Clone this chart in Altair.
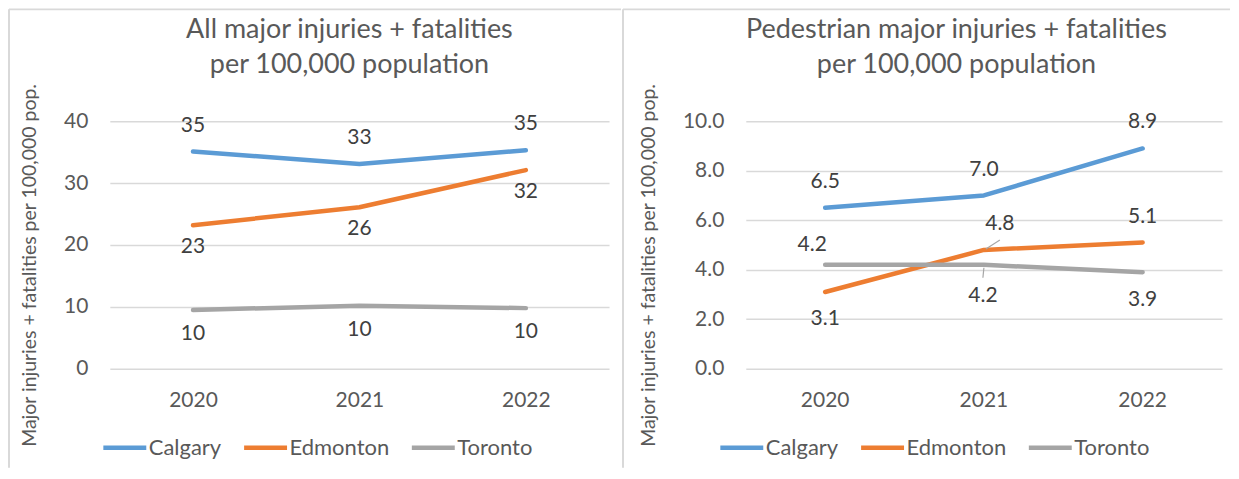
import altair as alt
import pandas as pd

FONT = "Lato"

years = ["2020", "2021", "2022"]
cities = ["Calgary", "Edmonton", "Toronto"]
city_colors = ["#5B9BD5", "#ED7D31", "#A5A5A5"]

all_calgary = [35.1, 33.1, 35.3]
all_edmonton = [23.2, 26.1, 32.1]
all_toronto = [9.5, 10.2, 9.8]

ped_calgary = [6.5, 7.0, 8.9]
ped_edmonton = [3.1, 4.8, 5.1]
ped_toronto = [4.2, 4.2, 3.9]

left_title = ["All major injuries + fatalities", "per 100,000 population"]
right_title = ["Pedestrian major injuries + fatalities", "per 100,000 population"]
y_title = "Major injuries + fatalities per 100,000 pop."
left_ticks = [0, 10, 20, 30, 40]
right_ticks = [0, 2, 4, 6, 8, 10]


def make_df(series):
    rows = []
    for city, vals in zip(cities, series):
        for yr, v in zip(years, vals):
            rows.append({"city": city, "year": yr, "value": v})
    return pd.DataFrame(rows)


df_all = make_df([all_calgary, all_edmonton, all_toronto])
df_ped = make_df([ped_calgary, ped_edmonton, ped_toronto])

# label placement (city, year or None, dx, dy)
left_place = [("Calgary", None, 0, -26), ("Edmonton", None, 0, 22), ("Toronto", None, 0, 24)]
right_place = [
    ("Calgary", None, 0, -26),
    ("Edmonton", "2020", 0, 27),
    ("Edmonton", "2021", 16, -26),
    ("Edmonton", "2022", 0, -26),
    ("Toronto", "2020", -13, -20),
    ("Toronto", "2021", -1, 31),
    ("Toronto", "2022", 0, 28),
]
# leader lines (city, year, x0, y0, x1, y1) offsets in px from the point
right_leaders = [("Edmonton", "2021", 2, -1, 16, -10), ("Toronto", "2021", 0, 3, -1, 13)]

GRID = "#D9D9D9"
TXT = "#595959"
one = alt.Data(values=[{}])


def flt(city, year):
    e = f"datum.city == '{city}'"
    if year is not None:
        e += f" && datum.year == '{year}'"
    return e


def panel(df, title_lines, ticks, yfmt, lfmt, width, title_x, place, leaders,
          legend_x, axis_title_x, frame):
    height = 248
    X = alt.X("year:O", title=None,
              axis=alt.Axis(labelAngle=0, ticks=False, domain=False, grid=False,
                            labelPadding=21, labelFontSize=21, labelFont=FONT,
                            labelColor=TXT))
    Y = alt.Y("value:Q", title=y_title,
              scale=alt.Scale(domain=[ticks[0], ticks[-1]], nice=False),
              axis=alt.Axis(values=ticks, format=yfmt, ticks=False, domain=False,
                            gridColor=GRID, gridWidth=1.5, labelPadding=22,
                            labelFontSize=21, labelFont=FONT, labelColor=TXT,
                            titleFont=FONT, titleFontSize=19.5, titleFontWeight="normal",
                            titleColor=TXT, titleX=axis_title_x, titleY=144,
                            titleAngle=270, titleAlign="center", titleBaseline="middle"))
    C = alt.Color("city:N", title=None,
                  scale=alt.Scale(domain=cities, range=city_colors),
                  legend=alt.Legend(orient="none", legendX=legend_x, legendY=303,
                                    direction="horizontal", symbolType="stroke",
                                    symbolStrokeWidth=4.5, symbolSize=1849,
                                    labelFontSize=22, labelFont=FONT, labelColor=TXT,
                                    labelOffset=0, columnPadding=13))
    base = alt.Chart(df)
    layers = []
    # frame lines
    for (x0, x1, y0, y1) in frame:
        enc = {"x": alt.value(x0), "y": alt.value(y0)}
        if x1 is not None:
            enc["x2"] = alt.value(x1)
        if y1 is not None:
            enc["y2"] = alt.value(y1)
        layers.append(alt.Chart(one).mark_rule(color=GRID, strokeWidth=2).encode(**enc))
    # title
    layers.append(alt.Chart(one).mark_text(
        text=title_lines, lineHeight=35, align="center", baseline="alphabetic",
        fontSize=27, font=FONT, color=TXT).encode(x=alt.value(title_x), y=alt.value(-83)))
    layers.append(base.mark_line(strokeWidth=4.5, strokeCap="round", strokeJoin="round")
                  .encode(x=X, y=Y, color=C))
    for (city, yr, x0, y0, x1, y1) in leaders:
        layers.append(base.transform_filter(flt(city, yr)).mark_rule(
            color="#A6A6A6", strokeWidth=1.2, xOffset=x0, yOffset=y0,
            x2Offset=x1, y2Offset=y1).encode(x=X, y=Y, x2="year:O", y2="value:Q"))
    for (city, yr, dx, dy) in place:
        layers.append(base.transform_filter(flt(city, yr)).mark_text(
            dx=dx, dy=dy, baseline="middle", align="center", fontSize=21, font=FONT,
            color="#404040").encode(x=X, y=Y, text=alt.Text("value:Q", format=lfmt)))
    return alt.layer(*layers).properties(width=width, height=height)


left = panel(df_all, left_title, left_ticks, "d", ".0f", 500, 240, left_place, [],
             -9, -80,
             [(-101, 512, -112, None), (-101, None, -112, 347)])
right = panel(df_ped, right_title, right_ticks, ".1f", ".1f", 477, 211, right_place,
              right_leaders, -28, -97,
              [(-123, 485, -112, None), (-123, None, -112, 347)])

chart = (alt.hconcat(left, right, spacing=0)
         .resolve_scale(x="independent", y="independent", color="independent")
         .resolve_legend(color="independent")
         .properties(padding=0)
         .configure_view(stroke=None))

chart.save("out.html", embed_options={"renderer": "svg", "actions": False})
